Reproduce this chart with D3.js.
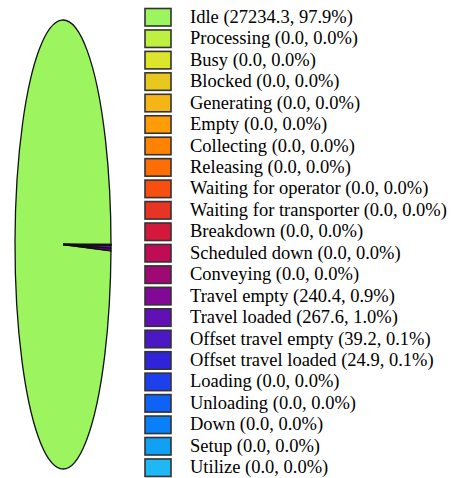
<!DOCTYPE html>
<html><head><meta charset="utf-8">
<script src="https://cdn.jsdelivr.net/npm/d3@7"></script>
</head><body style="margin:0">
<script>
const categories = ["Idle","Processing","Busy","Blocked","Generating","Empty","Collecting","Releasing","Waiting for operator","Waiting for transporter","Breakdown","Scheduled down","Conveying","Travel empty","Travel loaded","Offset travel empty","Offset travel loaded","Loading","Unloading","Down","Setup","Utilize"];
const values = [27234.3,0,0,0,0,0,0,0,0,0,0,0,0,240.4,267.6,39.2,24.9,0,0,0,0,0];
const percents = [97.9,0,0,0,0,0,0,0,0,0,0,0,0,0.9,1.0,0.1,0.1,0,0,0,0,0];
const colors = ["#9cf55e","#bdf040","#dde42c","#e8c81e","#f5b514","#ff9c08","#ff8200","#ff6e04","#f84e10","#e83424","#d4183c","#c00c54","#a00874","#820896","#6010b4","#4a18c4","#3024da","#1e40ec","#0e62f6","#0880fa","#12a0f4","#20b8f4"];

const W = 451, H = 478;
const svg = d3.select("body").append("svg").attr("width", W).attr("height", H).style("display","block");

// Elliptical pie, angles counter-clockwise from east (screen space)
const cx = 63, cy = 244.5, rx = 48, ry = 224.5;
const pie = d3.pie().sort(null).value(d => d.v).startAngle(0).endAngle(2*Math.PI);
const data = categories.map((c,i)=>({c, v: values[i], col: colors[i]}));
const arcs = pie(data);

function pt(phi){
  const c = Math.cos(phi), s = Math.sin(phi);
  const r = 1/Math.sqrt(c*c/(rx*rx) + s*s/(ry*ry));
  return [cx + r*c, cy - r*s];
}
function wedge(a0, a1){
  const p0 = pt(a0), p1 = pt(a1);
  const large = (a1 - a0) > Math.PI ? 1 : 0;
  return `M${cx},${cy}L${p0[0]},${p0[1]}A${rx},${ry} 0 ${large} 0 ${p1[0]},${p1[1]}Z`;
}
svg.append("g").selectAll("path").data(arcs.filter(a=>a.data.v>0)).join("path")
  .attr("d", a => wedge(a.startAngle, a.endAngle))
  .attr("fill", a => a.data.col)
  .attr("stroke", "#111").attr("stroke-width", 1.3);

// Legend
const y = d3.scaleBand().domain(categories).range([8, 8 + 21.45*categories.length]);
svg.selectAll("rect.sw").data(data).join("rect").attr("class","sw")
  .attr("x",145).attr("y",d=>y(d.c)+0.5).attr("width",26).attr("height",17.5)
  .attr("fill", d=>d.col).attr("stroke","#333").attr("stroke-width",1.6);
svg.selectAll("text").data(data).join("text").attr("x",190).attr("y",d=>y(d.c)+14.8)
  .style("font-family", '"Liberation Serif"').style("font-size","18.5px")
  .text((d,i)=>`${d.c} (${values[i].toFixed(1)}, ${percents[i].toFixed(1)}%)`);
</script>
</body></html>
